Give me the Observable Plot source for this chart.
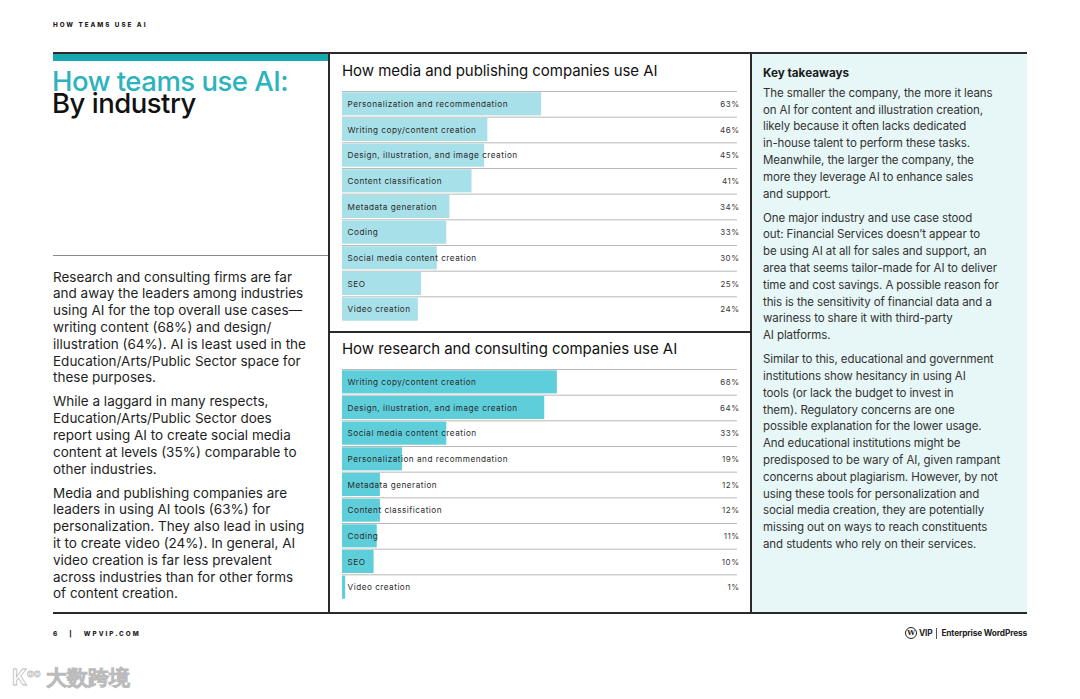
<!DOCTYPE html>
<html>
<head>
<meta charset="utf-8">
<script src="https://cdn.jsdelivr.net/npm/d3@7"></script>
<script src="https://cdn.jsdelivr.net/npm/@observablehq/plot@0.6"></script>
<style>
  html, body { margin: 0; padding: 0; background: #fff; }
  body { width: 1080px; height: 699px; position: relative; overflow: hidden; font-family: Inter, "Noto Sans", sans-serif; color: #1b1b1b; }
  .abs { position: absolute; white-space: nowrap; }
  .kicker { font-size: 6.3px; font-weight: 800; letter-spacing: 2px; color: #222; }
  .title { font-size: 27.5px; letter-spacing: -0.5px; line-height: 22.4px; font-weight: 500; }
  .lp { font-size: 13.5px; line-height: 16.8px; color: #1e1e1e; }
  .rp { font-size: 11.5px; line-height: 16.8px; color: #333; letter-spacing: -0.1px; }
  .ctitle { font-size: 15px; letter-spacing: -0.05px; color: #111; }
  .line { position: absolute; }
</style>
</head>
<body>
<script>
// ---- data ----
const mediaCategories = [
  "Personalization and recommendation",
  "Writing copy/content creation",
  "Design, illustration, and image creation",
  "Content classification",
  "Metadata generation",
  "Coding",
  "Social media content creation",
  "SEO",
  "Video creation"
];
const mediaValues = [63, 46, 45, 41, 34, 33, 30, 25, 24];

const researchCategories = [
  "Writing copy/content creation",
  "Design, illustration, and image creation",
  "Social media content creation",
  "Personalization and recommendation",
  "Metadata generation",
  "Content classification",
  "Coding",
  "SEO",
  "Video creation"
];
const researchValues = [68, 64, 33, 19, 12, 12, 11, 10, 1];

const mediaTitle = "How media and publishing companies use AI";
const researchTitle = "How research and consulting companies use AI";

const leftParagraphs = [
  ["Research and consulting firms are far",
   "and away the leaders among industries",
   "using AI for the top overall use cases—",
   "writing content (68%) and design/",
   "illustration (64%). AI is least used in the",
   "Education/Arts/Public Sector space for",
   "these purposes."],
  ["While a laggard in many respects,",
   "Education/Arts/Public Sector does",
   "report using AI to create social media",
   "content at levels (35%) comparable to",
   "other industries."],
  ["Media and publishing companies are",
   "leaders in using AI tools (63%) for",
   "personalization. They also lead in using",
   "it to create video (24%). In general, AI",
   "video creation is far less prevalent",
   "across industries than for other forms",
   "of content creation."]
];

const rightParagraphs = [
  ["The smaller the company, the more it leans",
   "on AI for content and illustration creation,",
   "likely because it often lacks dedicated",
   "in-house talent to perform these tasks.",
   "Meanwhile, the larger the company, the",
   "more they leverage AI to enhance sales",
   "and support."],
  ["One major industry and use case stood",
   "out: Financial Services doesn’t appear to",
   "be using AI at all for sales and support, an",
   "area that seems tailor-made for AI to deliver",
   "time and cost savings. A possible reason for",
   "this is the sensitivity of financial data and a",
   "wariness to share it with third-party",
   "AI platforms."],
  ["Similar to this, educational and government",
   "institutions show hesitancy in using AI",
   "tools (or lack the budget to invest in",
   "them). Regulatory concerns are one",
   "possible explanation for the lower usage.",
   "And educational institutions might be",
   "predisposed to be wary of AI, given rampant",
   "concerns about plagiarism. However, by not",
   "using these tools for personalization and",
   "social media creation, they are potentially",
   "missing out on ways to reach constituents",
   "and students who rely on their services."]
];

// ---- helpers ----
function el(tag, cls, style, html) {
  const e = document.createElement(tag);
  if (cls) e.className = cls;
  Object.assign(e.style, style || {});
  if (html != null) e.innerHTML = html;
  document.body.appendChild(e);
  return e;
}
function box(x, y, w, h, color) {
  return el("div", "line", {left: x + "px", top: y + "px", width: w + "px", height: h + "px", background: color});
}
function paragraphs(paras, x, y, cls, gap) {
  const d = el("div", "abs " + cls, {left: x + "px", top: y + "px"});
  paras.forEach((lines, i) => {
    const p = document.createElement("div");
    p.innerHTML = lines.map(l => l.replace(/&/g, "&amp;")).join("<br>");
    if (i > 0) p.style.marginTop = gap + "px";
    d.appendChild(p);
  });
  return d;
}

function barChart(cats, vals, color) {
  const data = cats.map((c, i) => ({cat: c, value: vals[i]}));
  const H = 236, mt = 3, mb = 2;
  const step = (H - mt - mb) / cats.length;
  const xmax = 125;
  return Plot.plot({
    width: 415,
    height: H,
    marginLeft: 12,
    marginRight: 8,
    marginTop: mt,
    marginBottom: mb,
    x: {domain: [0, xmax], axis: null},
    y: {domain: cats, paddingInner: 0.1, paddingOuter: 0.05, round: false, axis: null},
    style: {fontFamily: "Inter, sans-serif", background: "transparent", letterSpacing: "0.5px", overflow: "visible"},
    marks: [
      Plot.ruleY(data, {y: "cat", x1: 0, x2: xmax, dy: -step / 2, stroke: "#b8b8b8", strokeWidth: 1}),
      Plot.barX(data, {y: "cat", x: "value", fill: color}),
      Plot.text(data, {y: "cat", x: 0, text: "cat", textAnchor: "start", dx: 5, fontSize: 8.2, fill: "#2a2a2a"}),
      Plot.text(data, {y: "cat", x: xmax, text: d => d.value + "%", textAnchor: "end", dx: 2, fontSize: 8, fill: "#3a3a3a"})
    ]
  });
}

// ---- page background panels ----
box(751, 53, 276, 560, "#e7f6f6");   // right takeaway panel

// ---- header ----
el("div", "abs kicker", {left: "53px", top: "21px"}, "HOW TEAMS USE AI");

// ---- frame lines ----
box(53, 52, 974, 2, "#2a2a2a");          // top rule
box(53, 54, 275, 7, "#17a7b1");          // teal accent bar
box(53, 612, 974, 2, "#2a2a2a");         // bottom rule
box(328, 52, 2, 562, "#2a2a2a");         // vertical divider left
box(750, 52, 2, 562, "#2a2a2a");         // vertical divider right
box(330, 331, 420, 2, "#2a2a2a");        // horizontal divider between charts
box(53, 255, 275, 1, "#8a8a8a");         // thin rule left column

// ---- title (one block, two lines) ----
el("div", "abs title", {left: "52px", top: "70px", color: "#111"},
  '<span style="color:#2cb3bd">How teams use AI:</span><br>By industry');

// ---- left text ----
paragraphs(leftParagraphs, 53, 268.6, "lp", 7.2);

// ---- right text ----
el("div", "abs", {left: "763px", top: "66px", fontSize: "11.7px", fontWeight: "700", color: "#1b1b1b"}, "Key takeaways");
paragraphs(rightParagraphs, 763, 84.8, "rp", 7.2);

// ---- charts ----
el("div", "abs ctitle", {left: "342px", top: "61px"}, mediaTitle);
const c1 = barChart(mediaCategories, mediaValues, "#a7e0e8");
Object.assign(c1.style, {position: "absolute", left: "330px", top: "88px"});
document.body.appendChild(c1);

el("div", "abs ctitle", {left: "342px", top: "339px"}, researchTitle);
const c2 = barChart(researchCategories, researchValues, "#5fcedb");
Object.assign(c2.style, {position: "absolute", left: "330px", top: "366px"});
document.body.appendChild(c2);

// ---- footer ----
el("div", "abs kicker", {left: "53px", top: "630px", letterSpacing: "2px"}, "6&nbsp;&nbsp;&nbsp;|&nbsp;&nbsp;&nbsp;WPVIP.COM");
const logo = el("div", "abs", {left: "905px", top: "627px", fontSize: "8.3px", fontWeight: "700", color: "#222", display: "flex", alignItems: "center", gap: "2px", letterSpacing: "-0.15px"});
logo.innerHTML = '<span style="display:inline-block;width:10px;height:10px;border:1.3px solid #222;border-radius:50%;font-size:7px;line-height:10px;text-align:center;font-family:\'DejaVu Serif\',serif">W</span>'
  + '<span>VIP</span><span style="display:inline-block;width:1px;height:11px;background:#555;margin:0 2px"></span><span>Enterprise WordPress</span>';

// ---- watermark ----
el("div", "abs", {left: "12px", top: "664px", fontSize: "21px", fontWeight: "700", color: "rgba(255,255,255,0.9)", webkitTextStroke: "0.8px #bbb", letterSpacing: "0px"}, "K<sup style='font-size:11px'>oo</sup> 大数跨境");
</script>
</body>
</html>
